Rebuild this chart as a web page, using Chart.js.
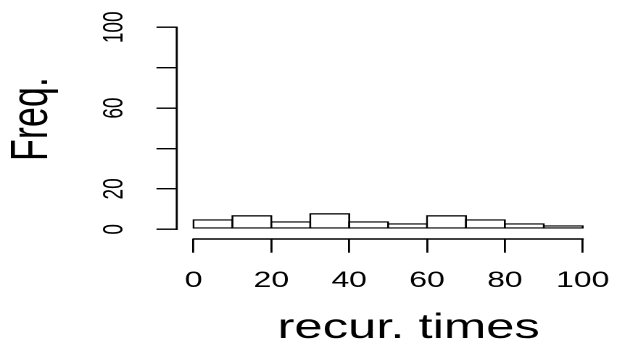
<!DOCTYPE html>
<html>
<head>
<meta charset="utf-8">
<script src="https://cdn.jsdelivr.net/npm/chart.js@4.4.1/dist/chart.umd.min.js"></script>
<style>
  html, body { margin: 0; padding: 0; background: #fff; overflow: hidden; }
  /* the plot is drawn narrow and widened, like the stretched R device it comes from */
  #hist { display: block; transform: scaleX(1.45); transform-origin: 0 0; }
</style>
</head>
<body>
<canvas id="hist" width="435" height="353"></canvas>
<script>
// histogram of recurrence times, bins of width 10
const binMids = [5, 15, 25, 35, 45, 55, 65, 75, 85, 95];
const freq    = [5, 7, 4, 8, 4, 3, 7, 5, 3, 2];
const xTicks  = [0, 20, 40, 60, 80, 100];
const yTicks  = [0, 20, 40, 60, 80, 100];
const yLabelled = [0, 20, 60, 100];   // R drops the labels that would overlap

Chart.defaults.font.family = '"Liberation Sans", Arial, Helvetica, sans-serif';
Chart.defaults.color = '#000';

const LW = 1.4;

// R style axes: the line only runs from the first to the last tick
const axisLines = {
  id: 'axisLines',
  afterDraw(chart) {
    const { ctx, scales: { x, y } } = chart;
    ctx.save();
    ctx.strokeStyle = '#000';
    ctx.lineWidth = LW;
    ctx.beginPath();
    ctx.moveTo(x.getPixelForValue(xTicks[0]) - LW / 2, x.top);
    ctx.lineTo(x.getPixelForValue(xTicks[xTicks.length - 1]) + LW / 2, x.top);
    ctx.moveTo(y.right, y.getPixelForValue(yTicks[0]) + LW / 2);
    ctx.lineTo(y.right, y.getPixelForValue(yTicks[yTicks.length - 1]) - LW / 2);
    ctx.stroke();
    ctx.restore();
  }
};

new Chart(document.getElementById('hist'), {
  type: 'bar',
  data: {
    datasets: [{
      data: binMids.map((m, i) => ({ x: m, y: freq[i] })),
      backgroundColor: '#fff',
      borderColor: '#000',
      borderWidth: LW,
      borderSkipped: false,
      barPercentage: 1.052,   // neighbours share one edge line
      categoryPercentage: 1
    }]
  },
  options: {
    responsive: false,
    animation: false,
    devicePixelRatio: 2,
    layout: { padding: { top: 19.2, right: 22.4, left: 0, bottom: 0 } },
    plugins: { legend: { display: false }, tooltip: { enabled: false } },
    scales: {
      x: {
        type: 'linear', min: -4.3, max: 104, offset: false,
        afterBuildTicks: s => { s.ticks = xTicks.map(value => ({ value })); },
        afterFit: s => { s.height = 114; s.paddingLeft = 0; s.paddingRight = 0; },
        border: { display: false },
        grid: { offset: false, drawOnChartArea: false, tickLength: 13.7, color: '#000', lineWidth: LW },
        ticks: { autoSkip: false, maxRotation: 0, padding: 14.8, font: { size: 22 } },
        title: { display: true, text: '   recur. times', font: { size: 35, lineHeight: 1 }, padding: { top: 0, bottom: 7 } }
      },
      y: {
        min: -4.8, max: 104,
        afterBuildTicks: s => { s.ticks = yTicks.map(value => ({ value })); },
        afterFit: s => { s.width = 121.9; s.paddingTop = 0; s.paddingBottom = 0; },
        border: { display: false },
        grid: { drawOnChartArea: false, tickLength: 14, color: '#000', lineWidth: LW },
        ticks: {
          minRotation: 90, maxRotation: 90, crossAlign: 'center', padding: 12.7,
          font: { size: 19 },
          callback: v => yLabelled.includes(v) ? String(v) : ''
        },
        title: { display: true, text: '  Freq.', font: { size: 36, lineHeight: 1 }, padding: { top: 4.5, bottom: 0 } }
      }
    }
  },
  plugins: [axisLines]
});
</script>
</body>
</html>
